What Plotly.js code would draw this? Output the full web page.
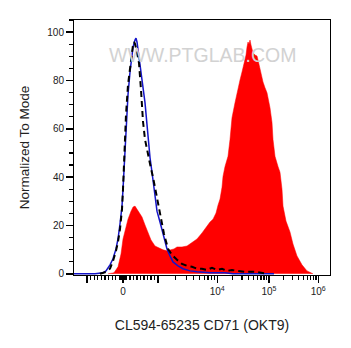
<!DOCTYPE html>
<html>
<head>
<meta charset="utf-8">
<script src="https://cdn.plot.ly/plotly-3.0.1.min.js"></script>
<style>
  html, body { margin: 0; padding: 0; background: #fff; }
  #chart { width: 351px; height: 348px; }
</style>
</head>
<body>
<div id="chart"></div>
<script>
// ---- Data (x in display channel units 0–1024, y = % of mode) ----
const stainedX = [136,160,176,188,196,208,216,228,236,244,252,264,272,284,296,308,324,344,356,372,388,400,412,432,452,472,492,512,532,544,556,568,576,584,592,596,604,616,624,632,644,652,664,672,680,688,692,696,700,704,708,712,716,724,732,736,744,756,764,772,784,792,796,804,816,824,832,836,848,864,876,892,912,932,956];
const stainedY = [0,0.4,2.9,8.2,14.4,20.2,22.6,25.9,27.6,28.0,26.7,24.7,23.5,20.2,17.3,14.0,11.5,10.3,9.9,9.5,9.9,10.3,11.1,11.1,11.5,12.8,14.4,16.9,19.8,21.4,22.6,25.1,28.4,30.9,35.8,40.3,44.4,48.6,55.6,64.6,70.8,74.9,80.2,83.5,87.2,90.5,93.8,95.9,95.1,96.7,94.7,93.4,91.4,90.5,90.1,88.5,84.4,79.4,77.0,74.9,68.7,62.6,55.6,48.6,44.4,42.0,35.0,28.0,21.8,17.3,12.3,7.4,3.7,1.2,0];

const isotypeX = [0,84,116,128,144,156,168,176,184,192,196,200,204,212,216,224,232,236,244,248,252,256,264,272,280,284,292,296,304,312,320,324,332,344,356,372,384,396,416,436,464,492,544,604,636,800];
const isotypeY = [0,0,0.4,1.2,3.7,6.2,10.3,14.4,20.6,28.0,35.0,43.2,53.5,67.9,74.1,83.5,90.5,93.8,96.7,97.5,95.9,92.6,87.7,81.5,75.3,70.8,61.7,56.8,48.1,42.0,35.8,32.1,25.9,21.4,16.5,10.3,7.4,4.9,3.3,2.1,1.2,0.8,0.4,0.4,0,0];

const blankX = [104,128,144,156,168,176,184,192,196,200,204,208,216,224,232,236,240,244,252,260,268,276,284,292,300,308,316,328,344,360,376,392,412,432,452,472,492,512,532,552,572,592,612,632,652,684,724,752,776];
const blankY = [0,0.8,2.1,5.3,9.5,13.2,18.5,26.7,35.0,45.3,55.6,65.8,78.2,85.6,91.8,94.7,95.9,95.1,91.8,87.2,76.1,63.0,55.6,51.0,47.5,43.5,40.0,33.5,24.5,16.5,10.3,7.8,5.8,4.1,3.3,2.9,2.1,2.1,1.6,2.5,1.6,2.1,1.2,1.6,1.2,0.8,0.8,0.4,0];

// ---- Axis (biexponential display scale) anchors ----
const scaleValues  = [-1000, 0, 1000, 1e4, 1e5, 1e6];
const scaleChannel = [52, 196, 336, 573, 780, 977];
const majorTickValues = [-1000, 0, 1000, 1e4, 1e5, 1e6];
const majorTickText = ['', '0', '', '10<sup>4</sup>', '10<sup>5</sup>', '10<sup>6</sup>'];

function toChannel(v) {
  if (v <= 1000) {
    if (v <= 0) return scaleChannel[1] + (v / 1000) * (scaleChannel[1] - scaleChannel[0]);
    return scaleChannel[1] + (v / 1000) * (scaleChannel[2] - scaleChannel[1]);
  }
  for (let i = 2; i < scaleValues.length - 1; i++) {
    if (v <= scaleValues[i + 1]) {
      const f = Math.log10(v / scaleValues[i]);
      return scaleChannel[i] + f * (scaleChannel[i + 1] - scaleChannel[i]);
    }
  }
  return scaleChannel[scaleChannel.length - 1];
}

const minorTickValues = [];
for (let k = 1; k <= 9; k++) { minorTickValues.push(-k * 100, k * 100, -k * 10, k * 10); }
[1e3, 1e4, 1e5].forEach(d => { for (let k = 2; k <= 9; k++) minorTickValues.push(k * d); });

const font = 'Liberation Sans, Arial, sans-serif';

const traces = [
  { x: stainedX, y: stainedY, type: 'scatter', mode: 'lines', fill: 'tozeroy',
    fillcolor: '#ff0000', line: { color: '#ff0000', width: 0.5 }, hoverinfo: 'skip' },
  { x: isotypeX, y: isotypeY, type: 'scatter', mode: 'lines',
    line: { color: '#1414c8', width: 1.5 }, hoverinfo: 'skip' },
  { x: blankX, y: blankY, type: 'scatter', mode: 'lines',
    line: { color: '#000000', width: 2, dash: '6px,4px' }, hoverinfo: 'skip' }
];

const layout = {
  width: 351, height: 348,
  margin: { l: 74, r: 21, t: 20, b: 73 },
  paper_bgcolor: '#ffffff', plot_bgcolor: '#ffffff',
  showlegend: false,
  font: { family: font, color: '#222' },
  xaxis: {
    range: [0, 1024], showgrid: false, zeroline: false,
    showline: true, linecolor: '#000', linewidth: 1, mirror: true,
    ticks: 'outside', ticklen: 7, tickwidth: 1.5, tickcolor: '#000',
    tickmode: 'array', tickvals: majorTickValues.map(toChannel), ticktext: majorTickText,
    tickfont: { family: font, size: 10, color: '#222' },
    minor: { tickmode: 'array', tickvals: minorTickValues.map(toChannel), ticks: 'outside', ticklen: 4, tickwidth: 1.2, tickcolor: '#000', showgrid: false },
    title: { text: 'CL594-65235 CD71 (OKT9)', font: { family: font, size: 14, color: '#222' }, standoff: 24 }
  },
  yaxis: {
    range: [-0.5, 105], showgrid: false, zeroline: false,
    showline: true, linecolor: '#000', linewidth: 1, mirror: true,
    ticks: 'outside', ticklen: 7, tickwidth: 1.5, tickcolor: '#000',
    tickmode: 'array', tickvals: [0, 20, 40, 60, 80, 100],
    tickfont: { family: font, size: 10, color: '#222' },
    minor: { dtick: 5, ticks: 'outside', ticklen: 4, tickwidth: 1.2, tickcolor: '#000', showgrid: false },
    title: { text: 'Normalized To Mode', font: { family: font, size: 13.5, color: '#222' }, standoff: 14 }
  },
  annotations: [{
    text: 'WWW.PTGLAB.COM', xref: 'paper', yref: 'paper', x: 0.5, y: 0.914,
    showarrow: false, font: { family: font, size: 19.5, color: '#d2d2d2' }
  }]
};

Plotly.newPlot('chart', traces, layout, { staticPlot: true, displayModeBar: false });
</script>
</body>
</html>
